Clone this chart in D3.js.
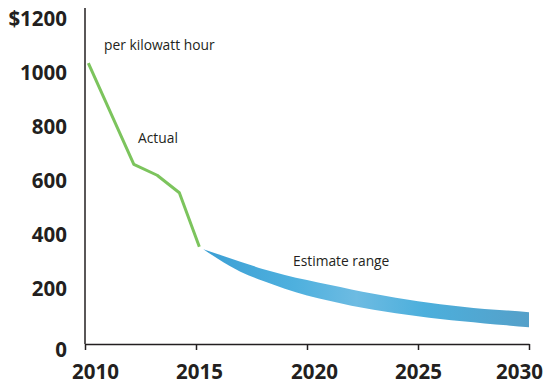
<!DOCTYPE html>
<html>
<head>
<meta charset="utf-8">
<script src="https://cdn.jsdelivr.net/npm/d3@7"></script>
<style>
  html, body { margin: 0; padding: 0; background: #fff; }
  svg { display: block; }
  text { font-family: "Open Sans", "Noto Sans", sans-serif; fill: #231f20; }
</style>
</head>
<body>
<svg id="chart" width="545" height="386"></svg>
<script>
// Battery pack cost, dollars per kilowatt hour
const actualYears = [2010.15, 2012.2, 2013.25, 2014.25, 2015.15];
const actualCost  = [1040, 665, 625, 560, 360];

// Projected range: upper and lower bounds
const estimateYears = [2015.33, 2016, 2017, 2018, 2019, 2020, 2021, 2022, 2023, 2024, 2025, 2026, 2027, 2028, 2029, 2030];
const estimateHigh  = [351, 332, 305, 278, 256, 237, 219, 202, 186, 171, 158, 147, 138, 130, 124, 118];
const estimateLow   = [351, 315, 268, 234, 205, 180, 160, 142, 127, 114, 103, 93, 84, 76, 69, 62];

const xTicks = [2010, 2015, 2020, 2025, 2030];
const yTicks = [0, 200, 400, 600, 800, 1000, 1200];

const svg = d3.select("#chart");

const x = d3.scaleLinear().domain([2010, 2030]).range([85, 529]);
const y = d3.scaleLinear().domain([0, 1200]).range([344, 20]);

// Gradient for the estimate band
const defs = svg.append("defs");
const grad = defs.append("linearGradient")
  .attr("id", "bandGrad")
  .attr("gradientUnits", "userSpaceOnUse")
  .attr("x1", x(2015.33)).attr("y1", 0)
  .attr("x2", x(2030)).attr("y2", 0);
grad.append("stop").attr("offset", "0%").attr("stop-color", "#3c9fd4");
grad.append("stop").attr("offset", "28%").attr("stop-color", "#4eb0de");
grad.append("stop").attr("offset", "47%").attr("stop-color", "#6dbbe2");
grad.append("stop").attr("offset", "68%").attr("stop-color", "#4cafdc");
grad.append("stop").attr("offset", "100%").attr("stop-color", "#55a0c9");

const bandData = estimateYears.map((yr, i) => ({ yr, hi: estimateHigh[i], lo: estimateLow[i] }));
const area = d3.area()
  .x(d => x(d.yr))
  .y0(d => y(d.lo))
  .y1(d => y(d.hi))
  .curve(d3.curveMonotoneX);

svg.append("path")
  .datum(bandData)
  .attr("d", area)
  .attr("fill", "url(#bandGrad)");

// Actual cost line
const lineData = actualYears.map((yr, i) => ({ yr, v: actualCost[i] }));
svg.append("path")
  .datum(lineData)
  .attr("d", d3.line().x(d => x(d.yr)).y(d => y(d.v)))
  .attr("fill", "none")
  .attr("stroke", "#7cc45d")
  .attr("stroke-width", 3)
  .attr("stroke-linejoin", "round");

// X axis; labels at the ends are pulled inward
const xLabelShift = { 2010: 10, 2015: 3, 2020: 7, 2025: 0, 2030: -10 };
const xAxis = svg.append("g")
  .attr("transform", `translate(0,${y(0)})`)
  .call(d3.axisBottom(x).tickValues(xTicks).tickFormat(d3.format("d")).tickSize(6).tickSizeOuter(0));
xAxis.select(".domain").attr("stroke", "#231f20").attr("stroke-width", 1.5);
xAxis.selectAll(".tick line").attr("stroke", "#231f20").attr("stroke-width", 1.5);
xAxis.selectAll(".tick text")
  .attr("y", 35).attr("dy", 0)
  .attr("dx", d => xLabelShift[d] || 0)
  .style("font-size", "20.5px").style("font-weight", 700)
  .attr("fill", "#231f20");

// Y axis
const yAxis = svg.append("g")
  .attr("transform", `translate(${x(2010)},0)`)
  .call(d3.axisLeft(y).tickValues(yTicks).tickSize(0).tickPadding(18)
    .tickFormat(d => d === 1200 ? "$1200" : String(d)));
yAxis.select(".domain").remove();
yAxis.append("line")
  .attr("x1", 0).attr("x2", 0)
  .attr("y1", y(1200) - 12).attr("y2", y(0))
  .attr("stroke", "#231f20").attr("stroke-width", 1.5);
yAxis.selectAll(".tick text")
  .attr("dy", d => d === 0 ? "12px" : "5px")
  .style("font-size", "20.5px").style("font-weight", 700)
  .attr("fill", "#231f20");

// Annotations
const notes = [
  { t: "per kilowatt hour", px: 104, py: 50 },
  { t: "Actual", px: 138, py: 143 },
  { t: "Estimate range", px: 293, py: 266 }
];
svg.selectAll("text.note")
  .data(notes)
  .enter().append("text")
  .attr("class", "note")
  .attr("x", d => d.px)
  .attr("y", d => d.py)
  .style("font-size", "13.8px")
  .text(d => d.t);
</script>
</body>
</html>
